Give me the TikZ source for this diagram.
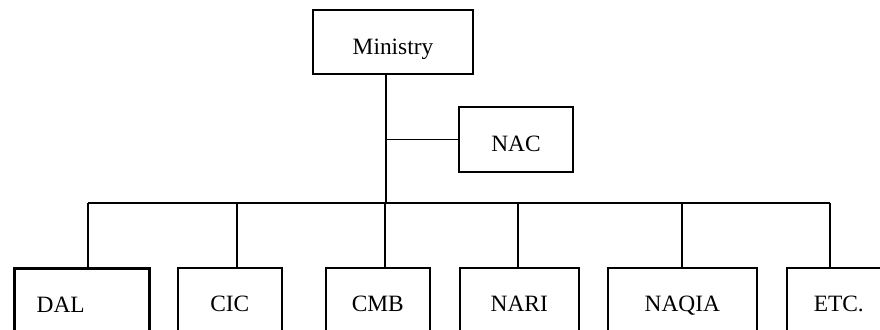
\documentclass[tikz,border=0pt]{standalone}
\usepackage{fontspec}
\setmainfont{Liberation Serif}

\begin{document}
\begin{tikzpicture}[x=1pt,y=-1pt,
  every node/.append style={rectangle,draw,line width=1.6pt,inner sep=0pt,
    text height=15.5pt,text depth=0pt,
    font=\fontsize{23.4}{28}\selectfont, fill=white, text=black},
  head/.style={text height=24.5pt},
  unit/.style={minimum height=72pt,anchor=north west},
  link/.style={draw,line width=1.6pt}]
\useasboundingbox (0,0) rectangle (880,329);
% top of the chart
\node[head,minimum width=160pt,minimum height=64pt] (ministry) at (393,42) {Ministry};
\node[head,minimum width=114pt,minimum height=65pt] (nac) at (516,139.5) {NAC};
% bottom row
\node[unit,line width=3.3pt,text width=91pt,align=left,inner xsep=22pt] (dal) at (13,267) {DAL};
\node[unit,minimum width=104pt] (cic) at (177,267) {CIC};
\node[unit,minimum width=104pt] (cmb) at (325,267) {CMB};
\node[unit,minimum width=119pt] (nari) at (459,267) {NARI};
\node[unit,minimum width=149pt] (naqia) at (607,267) {NAQIA};
\node[unit,minimum width=104pt] (etc) at (786,267) {ETC.};
% bus points
\coordinate (hub) at (386,203);
\coordinate (d-dal) at (88,203);
\coordinate (d-cic) at (237,203);
\coordinate (d-cmb) at (385,203);
\coordinate (d-nari) at (518,203);
\coordinate (d-naqia) at (682,203);
\coordinate (d-etc) at (830,203);
\draw[link] (ministry.south -| hub) -- (hub);
\draw[link] (hub |- nac.west) -- (nac.west);
\draw[link] (d-dal) -- (d-etc);
\foreach \n in {dal,cic,cmb,nari,naqia,etc}
  \draw[link] (d-\n) -- (\n.north -| d-\n);
\end{tikzpicture}
\end{document}
